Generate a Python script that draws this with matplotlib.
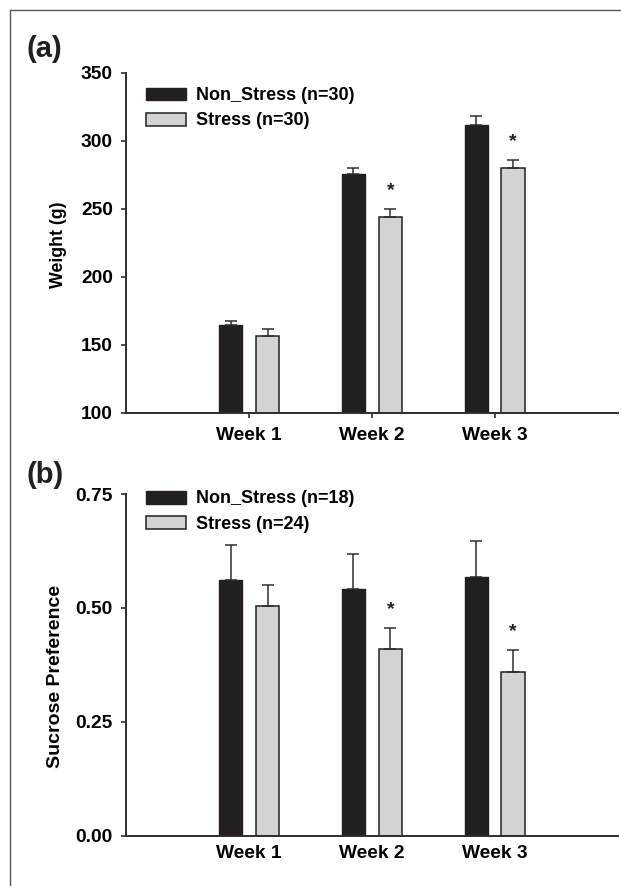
import numpy as np
import matplotlib
matplotlib.use("Agg")
import matplotlib.pyplot as plt
from matplotlib.lines import Line2D

plt.rcParams['font.family'] = ['Liberation Sans', 'DejaVu Sans']
plt.rcParams['font.weight'] = 'bold'

# data
weeks = ['Week 1', 'Week 2', 'Week 3']

weight_non_stress = [164.6, 275.7, 311.4]
weight_non_stress_err = [3.2, 4.2, 7.1]
weight_stress = [156.8, 244.1, 279.6]
weight_stress_err = [4.6, 5.7, 6.1]
weight_sig = [False, True, True]
weight_labels = ['Non_Stress (n=30)', 'Stress (n=30)']
weight_ticks = [100, 150, 200, 250, 300, 350]

sp_non_stress = [0.561, 0.542, 0.568]
sp_non_stress_err = [0.077, 0.077, 0.079]
sp_stress = [0.505, 0.409, 0.359]
sp_stress_err = [0.046, 0.047, 0.049]
sp_sig = [False, True, True]
sp_labels = ['Non_Stress (n=18)', 'Stress (n=24)']
sp_ticks = [0.0, 0.25, 0.50, 0.75]

BLACK = '#231f20'
GRAY = '#d1d3d4'
AXC = '#2e2e2e'


def draw_panel(ax, non, non_err, st, st_err, sig, labels, ticks, ylim, ylabel,
               fmt, xticks_out, leg_y, lab_x, lab_y, lab_size):
    x = np.arange(1, len(weeks) + 1)
    w = 0.19
    ekw = dict(ecolor=AXC, elinewidth=1.1, capsize=4.2, capthick=1.1)
    ax.bar(x - 0.15, non, w, color=BLACK, edgecolor=BLACK, linewidth=1.0,
           yerr=[np.zeros(len(non)), non_err], error_kw=ekw, label=labels[0])
    ax.bar(x + 0.15, st, w, color=GRAY, edgecolor=BLACK, linewidth=1.1,
           yerr=[np.zeros(len(st)), st_err], error_kw=ekw, label=labels[1])
    for xi, v, e, s in zip(x, st, st_err, sig):
        if s:
            ax.annotate('*', (xi + 0.15, v + e), xytext=(0, 10),
                        textcoords='offset points', ha='center', va='baseline',
                        fontsize=14, fontweight='bold', color=BLACK)
    ax.set_xlim(0, 4)
    ax.set_ylim(*ylim)
    ax.set_yticks(ticks)
    ax.set_yticklabels([fmt.format(t) for t in ticks])
    ax.set_xticks(x)
    ax.set_xticklabels(weeks)
    for sp in ['top', 'right']:
        ax.spines[sp].set_visible(False)
    for sp in ['left', 'bottom']:
        ax.spines[sp].set_linewidth(1.4)
        ax.spines[sp].set_color(AXC)
    ax.tick_params(axis='y', direction='out', length=3.6, width=1.2,
                   color=AXC, pad=6, labelsize=13.8)
    ax.tick_params(axis='x', direction='out', length=3.6 if xticks_out else 0,
                   width=1.2, color=AXC, pad=6.5, labelsize=13.8)
    ax.set_ylabel(ylabel, fontsize=lab_size, fontweight='bold')
    ax.yaxis.set_label_coords(lab_x, lab_y)
    ax.legend(loc='upper left', bbox_to_anchor=(0.041, leg_y), frameon=False,
              fontsize=13, handlelength=2.2, handleheight=0.72,
              handletextpad=0.55, labelspacing=0.45, borderpad=0,
              borderaxespad=0)


fig = plt.figure(figsize=(6.21, 8.86), dpi=100)
ax_a = fig.add_axes([0.2034, 0.5339, 0.7910, 0.3841])
ax_b = fig.add_axes([0.2034, 0.0568, 0.7910, 0.3856])

draw_panel(ax_a, weight_non_stress, weight_non_stress_err, weight_stress,
           weight_stress_err, weight_sig, weight_labels, weight_ticks,
           (100, 350), 'Weight (g)', '{:.0f}', True, 0.957, -0.120, 0.494, 12.8)
draw_panel(ax_b, sp_non_stress, sp_non_stress_err, sp_stress, sp_stress_err,
           sp_sig, sp_labels, sp_ticks, (0, 0.75), 'Sucrose Preference',
           '{:.2f}', False, 1.0105, -0.126, 0.467, 14)

fig.text(27 / 621, 1 - 49 / 886, '(a)', fontsize=21, fontweight='bold',
         ha='left', va='center', color=BLACK)
fig.text(27 / 621, 1 - 475 / 886, '(b)', fontsize=21, fontweight='bold',
         ha='left', va='center', color=BLACK)

# frame line round the figure (left and top)
fx = 10 / 621
fy = 1 - 9.5 / 886
fig.add_artist(Line2D([fx, fx, 1], [0, fy, fy], transform=fig.transFigure,
                      color='#555555', linewidth=1.0))

fig.savefig('out.png', dpi=100)
